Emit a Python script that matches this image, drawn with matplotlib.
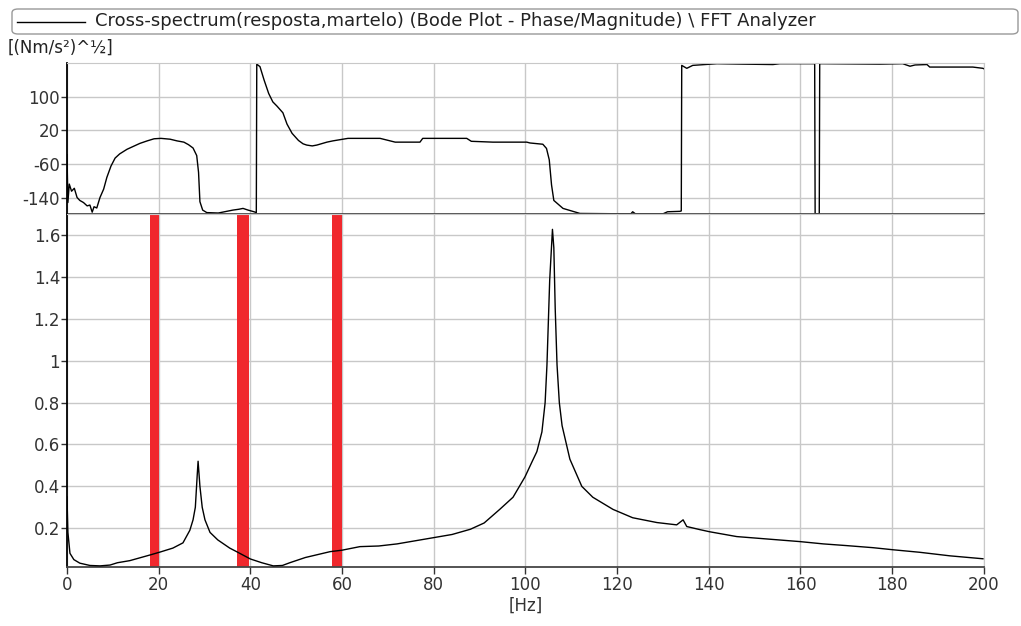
import matplotlib
matplotlib.use("Agg")
import matplotlib.pyplot as plt
from matplotlib.patches import FancyBboxPatch
from matplotlib.lines import Line2D
import numpy as np

# phase (deg)
phase_hz = [0.0, 0.2, 0.5, 1.0, 1.6, 2.2, 2.8, 3.6, 4.4, 5.0, 5.5, 5.9, 6.5, 7.2, 8.0,
            8.7, 9.6, 10.5, 11.5, 13.1, 14.5, 15.9, 17.5, 19.0, 20.5, 22.5, 24.0, 25.5,
            26.5, 27.5, 28.3, 28.7, 29.0, 29.6, 30.5, 33.0, 36.2, 37.5, 38.4, 39.5, 40.8,
            41.3, 41.4, 42.1, 43.0, 44.0, 44.9, 45.8, 47.1, 48.0, 49.1, 50.5, 51.5, 52.3,
            53.5, 54.5, 56.7, 58.0, 61.3, 68.3, 71.6, 77.0, 77.6, 87.2, 88.2, 92.9, 100.3,
            101.0, 103.8, 104.6, 105.2, 105.7, 106.2, 108.2, 111.9, 123.0, 123.4, 124.0,
            130.0, 131.0, 133.7, 134.0, 134.1, 135.2, 136.5, 141.8, 147.4, 154.0, 155.5,
            162.7, 163.1, 163.2, 164.1, 164.2, 164.7, 177.3, 182.3, 183.9, 185.0, 187.6,
            188.2, 197.6, 199.8, 200.0]
phase_deg = [-38, -152, -108, -125, -118, -140, -147, -152, -160, -158, -175, -162, -165,
             -140, -120, -92, -65, -46, -36, -25, -18, -11, -5, 0, 1, -1, -5, -8, -14, -22,
             -40, -80, -150, -170, -176, -177, -170, -168, -166, -170, -174, -176, 178, 172,
             140, 108, 88, 78, 62, 35, 13, -4, -12, -15, -17, -15, -8, -5, 1, 1, -8, -8, 1,
             1, -6, -8, -8, -10, -13, -23, -50, -110, -147, -166, -178, -179, -174, -179,
             -179, -174, -173, -172, 175, 168, 175, 179, 178, 177, 179, 179, 179, -179, -179,
             179, 179, 178, 179, 173, 176, 177, 171, 171, 168, 167]

# magnitude [(Nm/s2)^1/2]
mag_hz = [0.0, 0.2, 0.65, 1.5, 2.8, 5.0, 7.2, 9.4, 11.0, 13.7, 18.1, 20.3, 23.1, 25.3,
          26.8, 27.5, 28.0, 28.4, 28.6, 28.8, 29.0, 29.5, 30.1, 31.2, 32.9, 35.5, 37.0,
          40.0, 42.5, 45.0, 47.0, 48.6, 52.0, 57.4, 60.0, 63.9, 68.0, 72.0, 76.0, 80.0,
          84.0, 88.0, 91.0, 94.4, 97.3, 99.9, 101.5, 102.5, 103.6, 104.3, 104.7, 105.3,
          105.9, 106.2, 106.5, 106.9, 107.4, 108.0, 109.7, 112.3, 114.7, 119.1, 123.4,
          128.7, 133.0, 134.4, 135.2, 138.1, 140.2, 146.1, 153.0, 159.9, 165.0, 170.0,
          175.8, 180.2, 186.0, 192.6, 199.8]
mag_val = [0.35, 0.18, 0.08, 0.05, 0.033, 0.022, 0.02, 0.024, 0.035, 0.045, 0.072, 0.086,
           0.105, 0.13, 0.19, 0.24, 0.30, 0.45, 0.52, 0.46, 0.40, 0.30, 0.24, 0.18, 0.144,
           0.105, 0.088, 0.053, 0.035, 0.02, 0.022, 0.035, 0.06, 0.088, 0.095, 0.112, 0.115,
           0.125, 0.14, 0.155, 0.17, 0.195, 0.225, 0.29, 0.348, 0.445, 0.52, 0.566, 0.66,
           0.8, 0.98, 1.386, 1.628, 1.54, 1.25, 0.98, 0.8, 0.69, 0.53, 0.40, 0.348, 0.29,
           0.25, 0.227, 0.216, 0.24, 0.208, 0.193, 0.183, 0.16, 0.148, 0.136, 0.125, 0.117,
           0.107, 0.097, 0.085, 0.068, 0.054]

# red marker bands (Hz)
band_lo = [18.1, 37.0, 57.8]
band_hi = [20.1, 39.7, 59.9]

phase_ticks = [100, 20, -60, -140]
mag_ticks = [0.2, 0.4, 0.6, 0.8, 1.0, 1.2, 1.4, 1.6]
mag_ticklabels = ["0.2", "0.4", "0.6", "0.8", "1", "1.2", "1.4", "1.6"]
hz_ticks = [0, 20, 40, 60, 80, 100, 120, 140, 160, 180, 200]

title = "Cross-spectrum(resposta,martelo) (Bode Plot - Phase/Magnitude) \\ FFT Analyzer"

plt.rcParams['font.family'] = ['DejaVu Sans']
plt.rcParams['axes.unicode_minus'] = False
fs = 12
grid_c = '#c8c8c8'
dark = '#454545'

fig = plt.figure(figsize=(10.21, 6.26), dpi=100)
ax1 = fig.add_axes([0.0656, 0.6577, 0.898, 0.2412])
ax2 = fig.add_axes([0.0656, 0.0947, 0.898, 0.5630])

for ax in (ax1, ax2):
    ax.set_xlim(0, 200)
    ax.set_xticks(hz_ticks)
    ax.grid(True, color=grid_c, lw=1.0)
    ax.set_axisbelow(True)
    ax.spines['left'].set_color('black')
    ax.spines['left'].set_linewidth(1.3)
    ax.spines['right'].set_color(grid_c)
    ax.spines['top'].set_color(grid_c)
    ax.spines['bottom'].set_color(dark)
    ax.spines['bottom'].set_linewidth(1.3)
    ax.tick_params(axis='y', length=4, width=1, colors='#333333', labelsize=fs, pad=1)

ax1.plot(phase_hz, phase_deg, color='black', lw=1.0)
ax1.set_ylim(-180, 180)
ax1.set_yticks(phase_ticks)
ax1.tick_params(axis='x', length=0, labelbottom=False)

for lo, hi in zip(band_lo, band_hi):
    ax2.axvspan(lo, hi, color='#f0282d', lw=0, zorder=2)
ax2.plot(mag_hz, mag_val, color='black', lw=1.0, zorder=3)
ax2.set_ylim(0.016, 1.70)
ax2.set_yticks(mag_ticks)
ax2.set_yticklabels(mag_ticklabels)
ax2.tick_params(axis='x', length=5, width=1, colors='#333333', labelsize=fs, pad=2)
ax2.set_xlabel('[Hz]', fontsize=fs, color='#333333', labelpad=2)

# legend bar across the top
box = FancyBboxPatch((12 / 1021, 1 - 34 / 626), 1006 / 1021, 25 / 626,
                     boxstyle="round,pad=0,rounding_size=0.006", transform=fig.transFigure,
                     facecolor='white', edgecolor='#999999', lw=1.0)
fig.patches.append(box)
fig.lines.append(Line2D([17 / 1021, 85 / 1021], [1 - 22 / 626, 1 - 22 / 626],
                        transform=fig.transFigure, color='black', lw=1.0))
fig.text(95 / 1021, 1 - 21.5 / 626, title, fontsize=13, va='center', ha='left', color='#222222')
fig.text(8 / 1021, 1 - 48 / 626, "[(Nm/s\u00b2)^\u00bd]", fontsize=fs, va='center', ha='left',
         color='#222222')

fig.savefig('out.png', dpi=100)
